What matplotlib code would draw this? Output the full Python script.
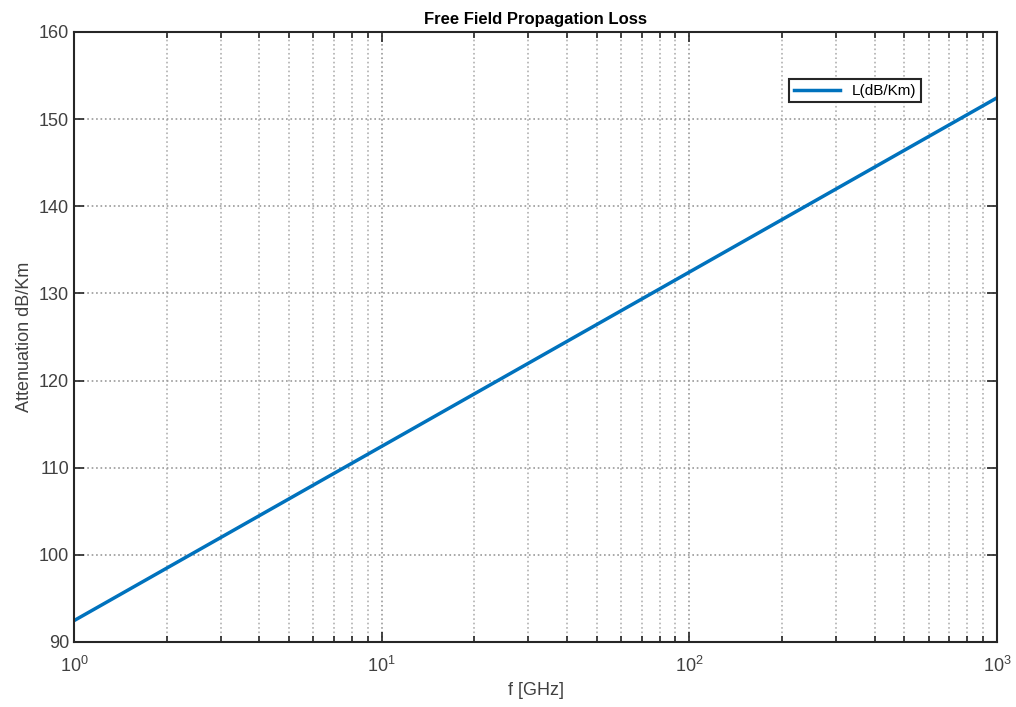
import numpy as np
import matplotlib
matplotlib.use('Agg')
import matplotlib.pyplot as plt

plt.rcParams['font.family'] = ['Liberation Sans', 'DejaVu Sans']

# values (straight line on log x axis)
freq_ghz = [1, 10, 100, 1000]
loss_db = [92.45, 112.45, 132.45, 152.45]

fig = plt.figure(figsize=(10.16, 7.07), dpi=100)
ax = fig.add_axes([74 / 1016, 1 - 642 / 707, (997 - 74) / 1016, (642 - 32) / 707])

ax.semilogx(freq_ghz, loss_db, color='#0072BD', linewidth=2.5, label='L(dB/Km)')

ax.set_xlim(1, 1000)
ax.set_ylim(90, 160)
ax.set_yticks(np.arange(90, 161, 10))

ax.grid(True, which='major', linestyle=':', color='#9a9a9a', linewidth=1.2)
ax.grid(True, which='minor', axis='x', linestyle=':', color='#b0b0b0', linewidth=1.2)

ax.tick_params(which='both', direction='in', top=True, right=True,
               labelsize=13, colors='#262626', labelcolor='#404040')
ax.tick_params(which='major', length=7, width=1.2)
ax.tick_params(which='minor', length=4, width=1.2)
ax.tick_params(axis='x', pad=10)
for s in ax.spines.values():
    s.set_color('#262626')
    s.set_linewidth(1.5)

ax.set_title('Free Field Propagation Loss', fontsize=12, fontweight='bold', pad=6)
ax.set_xlabel('f [GHz]', fontsize=13, color='#404040')
ax.set_ylabel('Attenuation dB/Km', fontsize=13, color='#404040')

leg = ax.legend(loc='upper right', bbox_to_anchor=(0.926, 0.935), fontsize=11,
                fancybox=False, edgecolor='#262626', framealpha=1,
                handlelength=3, borderpad=0.3)
leg.get_frame().set_linewidth(1.5)

fig.savefig('out.png', dpi=100)
